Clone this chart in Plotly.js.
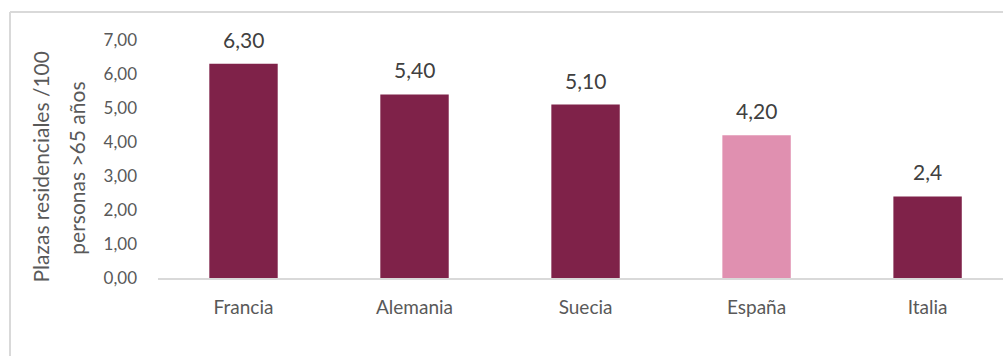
<!DOCTYPE html>
<html>
<head>
<meta charset="utf-8">
<script src="https://cdn.plot.ly/plotly-3.0.1.min.js"></script>
<style>html,body{margin:0;padding:0;background:#fff;}#chart{width:1003px;height:356px;}</style>
</head>
<body>
<div id="chart"></div>
<script>
const categories = ["Francia", "Alemania", "Suecia", "España", "Italia"];
const values = [6.30, 5.40, 5.10, 4.20, 2.4];
const valueLabels = ["6,30", "5,40", "5,10", "4,20", "2,4"];
const barColors = ["#7F2249", "#7F2249", "#7F2249", "#E090B0", "#7F2249"];
const yTickVals = [0, 1, 2, 3, 4, 5, 6, 7];
const yTickText = ["0,00", "1,00", "2,00", "3,00", "4,00", "5,00", "6,00", "7,00"];
const titleLines = ["Plazas residenciales /100", "personas >65 años"];

const FONT = "Lato, 'Open Sans', sans-serif";

const trace = {
  type: "bar",
  x: categories,
  y: values,
  marker: { color: barColors, line: { width: 0 } },
  hoverinfo: "skip"
};

const annotations = categories.map((c, i) => ({
  x: c, y: values[i], xref: "x", yref: "y",
  text: valueLabels[i], showarrow: false,
  yanchor: "bottom", yshift: 10,
  font: { family: FONT, size: 21, color: "#404040" }
}));
annotations.push({
  x: -0.1385, y: 0.4685, xref: "paper", yref: "paper",
  text: titleLines[0], showarrow: false, textangle: -90,
  xanchor: "center", yanchor: "middle",
  font: { family: FONT, size: 21, color: "#595959" }
});
annotations.push({
  x: -0.0975, y: 0.462, xref: "paper", yref: "paper",
  text: titleLines[1], showarrow: false, textangle: -90,
  xanchor: "center", yanchor: "middle",
  font: { family: FONT, size: 21, color: "#595959" }
});

const layout = {
  width: 1003, height: 356,
  margin: { l: 158, r: 0, t: 40, b: 78, pad: 0 },
  paper_bgcolor: "#ffffff", plot_bgcolor: "#ffffff",
  showlegend: false,
  bargap: 0.6,
  xaxis: {
    type: "category",
    range: [-0.5, 4.441],
    showgrid: false, zeroline: false,
    showline: true, linecolor: "#D9D9D9", linewidth: 1.5,
    ticks: "", ticklabelstandoff: 12,
    tickfont: { family: FONT, size: 19, color: "#595959" },
    fixedrange: true
  },
  yaxis: {
    range: [0, 7],
    tickvals: yTickVals, ticktext: yTickText,
    showgrid: false, zeroline: false, showline: false,
    ticks: "", ticklabelstandoff: 20,
    tickfont: { family: FONT, size: 17, color: "#595959" },
    fixedrange: true
  },
  annotations: annotations,
  shapes: [
    { type: "line", xref: "paper", yref: "paper", x0: -0.17515, x1: 1.01, y0: 1.11765, y1: 1.11765,
      line: { color: "#D9D9D9", width: 2 } },
    { type: "line", xref: "paper", yref: "paper", x0: -0.17515, x1: -0.17515, y0: 1.11765, y1: -0.35,
      line: { color: "#D9D9D9", width: 2 } }
  ]
};

Plotly.newPlot("chart", [trace], layout, { displayModeBar: false, staticPlot: true });
</script>
</body>
</html>
